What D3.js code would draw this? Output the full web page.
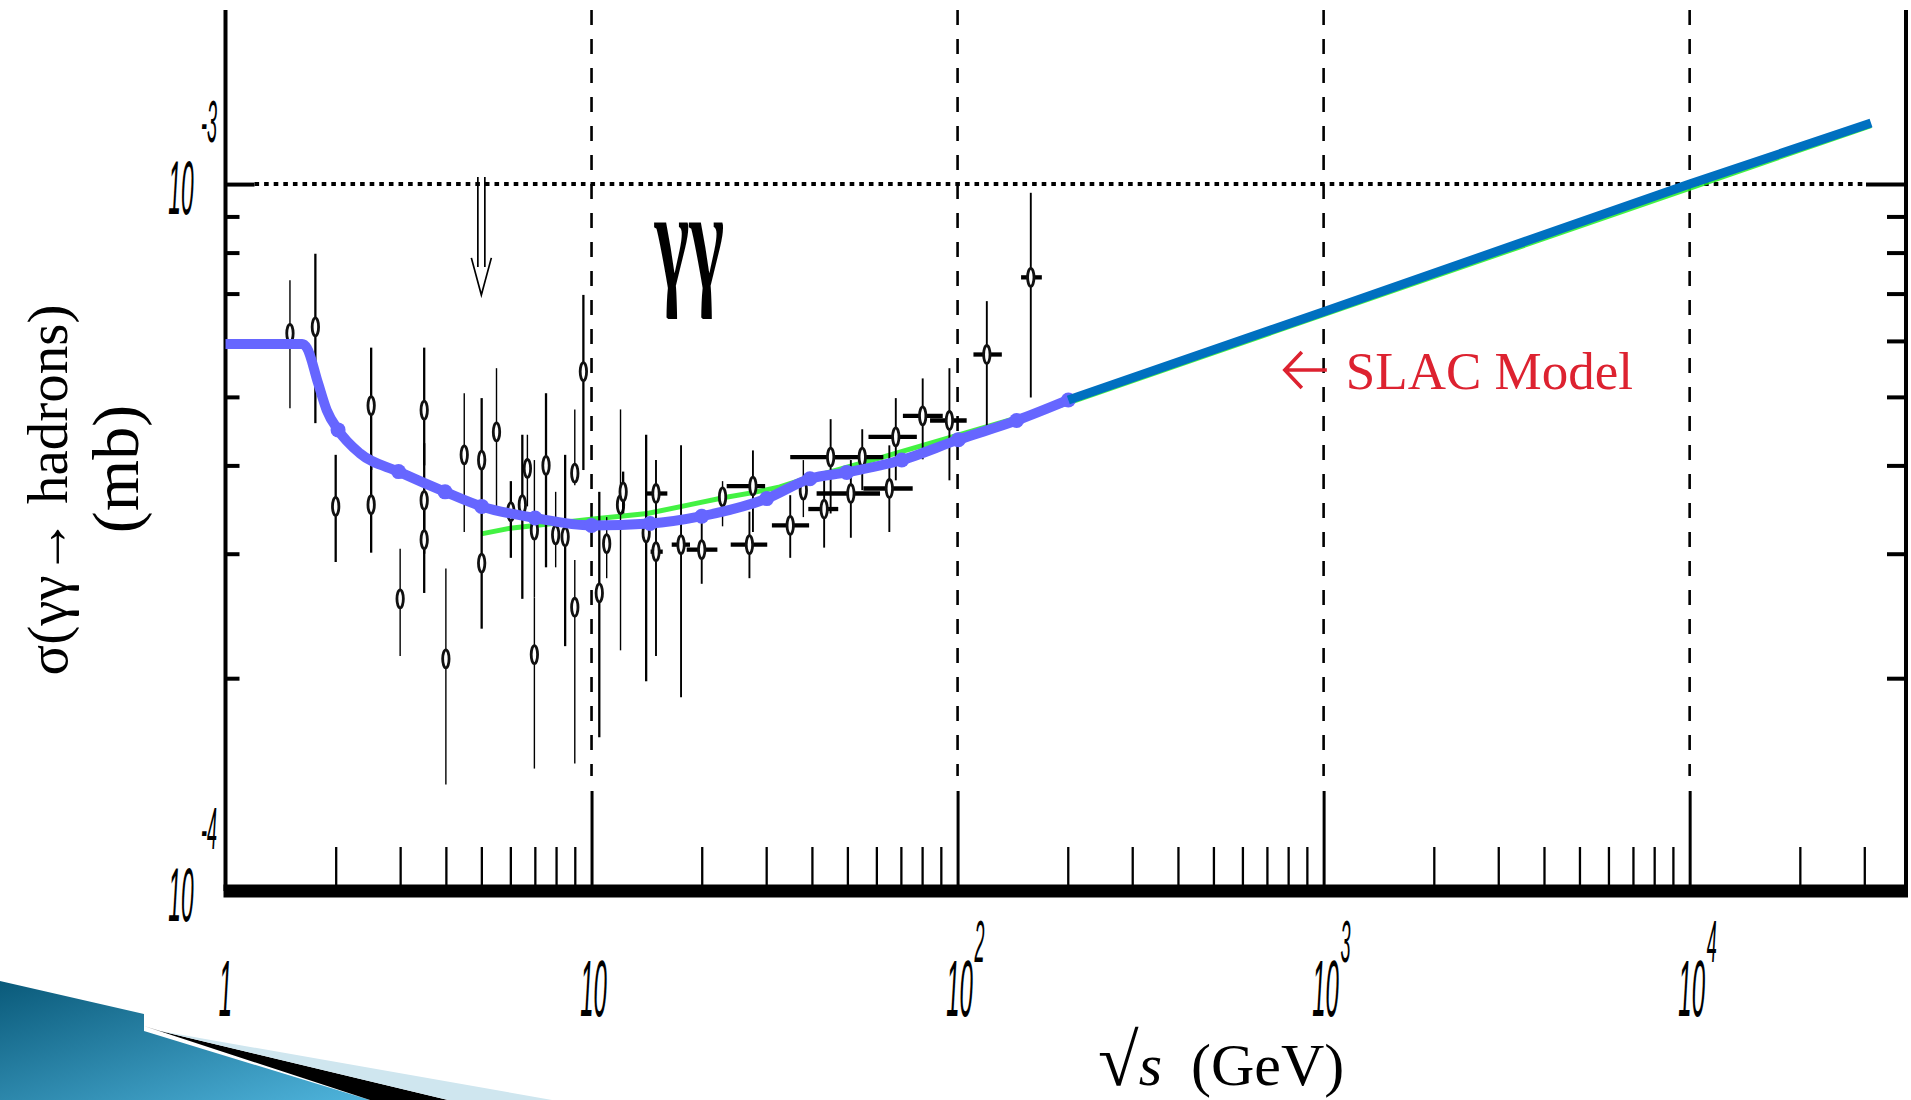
<!DOCTYPE html>
<html>
<head>
<meta charset="utf-8">
<script src="https://cdn.jsdelivr.net/npm/d3@7"></script>
<style>
  html, body { margin: 0; padding: 0; background: #fff; }
  svg { display: block; }
</style>
</head>
<body>
<svg id="chart" width="1911" height="1100"></svg>
<script>
// ================= DATA =================
// x axis (sqrt s, GeV) - log scale
const xMajorTicks = [10, 100, 1000, 10000];
const xLabelValues = [1, 10, 100, 1000, 10000];
const xLabelBase   = ["1", "10", "10", "10", "10"];
const xLabelExp    = ["", "", "2", "3", "4"];
const xMinorTicks  = [2, 3, 4, 5, 6, 7, 8, 9,
                      20, 30, 40, 50, 60, 70, 80, 90,
                      200, 300, 400, 500, 600, 700, 800, 900,
                      2000, 3000, 4000, 5000, 6000, 7000, 8000, 9000,
                      20000, 30000];
// y axis (sigma, mb) - log scale
const yLabelValues = [1e-4, 1e-3];
const yLabelBase   = ["10", "10"];
const yLabelExp    = ["-4", "-3"];
const yMinorTicks  = [2e-4, 3e-4, 4e-4, 5e-4, 6e-4, 7e-4, 8e-4, 9e-4];
const yMajorTicks  = [1e-3];

// data values below are in units of 1e-4 mb
// set A : measurements with thin error bars
const setA_E     = [1.50, 3.00, 4.00, 4.49, 5.50, 6.68, 6.98, 6.98, 7.98, 9.0, 9.0, 11.0, 12.0, 22.8, 37.9];
const setA_sigma = [6.15, 2.59, 2.13, 4.14, 4.46, 3.96, 2.16, 3.24, 3.19, 3.90, 2.52, 3.10, 3.52, 3.61, 3.69];
const setA_hi    = [7.31, 3.05, 2.86, 5.06, 5.49, 4.42, 2.60, 4.07, 3.67, 4.80, 2.94, 3.38, 4.80, 3.80, 4.07];
const setA_lo    = [4.82, 2.15, 1.415, 3.22, 3.50, 3.50, 1.49, 2.60, 2.87, 3.75, 1.515, 2.77, 2.19, 3.28, 3.38];

// set B : measurements with thick error bars
const setB_E     = [1.76, 2.00, 2.50, 2.50, 3.49, 3.49, 3.49, 5.01, 5.01, 6.02, 6.47, 7.51, 8.47, 9.50, 10.5, 12.2, 14.1];
const setB_sigma = [6.28, 3.50, 4.86, 3.52, 4.79, 3.57, 3.14, 4.07, 2.91, 3.44, 3.52, 4.00, 3.17, 5.43, 2.64, 3.67, 3.21];
const setB_hi    = [7.97, 4.14, 5.87, 4.14, 5.87, 4.30, 3.60, 4.98, 3.46, 3.80, 4.42, 5.06, 4.14, 6.97, 3.67, 3.92, 4.42];
const setB_lo    = [4.59, 2.92, 3.94, 3.01, 4.00, 3.00, 2.64, 3.46, 2.35, 2.96, 2.59, 2.87, 2.22, 3.94, 1.65, 3.42, 1.98];

// set C : measurements with energy bins (horizontal bars)
const setC_E     = [15.0, 15.0, 17.56, 20.0, 27.0, 27.6, 34.9, 43.2, 45.0, 51.1, 54.9, 65.1, 67.8, 80.3, 95.0, 120.2, 158.5];
const setC_sigma = [3.65, 3.02, 3.09, 3.04, 3.09, 3.74, 3.29, 3.47, 4.11, 3.65, 4.11, 3.71, 4.39, 4.70, 4.63, 5.74, 7.38];
const setC_hi    = [4.07, 3.30, 4.27, 3.42, 3.44, 4.20, 3.63, 3.81, 4.65, 4.07, 4.50, 4.27, 4.98, 5.31, 5.49, 6.83, 9.72];
const setC_lo    = [3.30, 2.15, 1.88, 2.72, 2.77, 3.22, 2.96, 3.06, 3.42, 3.16, 3.69, 3.22, 3.81, 4.08, 3.81, 4.50, 4.99];
const setC_Elo   = [14.06, 14.5, 16.56, 18.2, 24.0, 23.4, 31.1, 39.1, 34.9, 41.2, 45.0, 55.3, 57.1, 70.9, 84.1, 110.5, 149.1];
const setC_Ehi   = [16.11, 15.65, 18.58, 22.07, 30.2, 29.8, 39.3, 47.2, 51.0, 61.4, 62.7, 75.4, 77.4, 91.1, 105.9, 132.1, 169.9];

// model curve (purple, with dots)
const modelE     = [1, 1.62, 1.67, 1.79, 1.89, 2.03, 2.33, 2.97, 3.98, 5.01, 7.01, 10.0, 14.45, 20.0, 30.1, 39.5, 49.8, 70.4, 100.5, 145, 200.7];
const modelSigma = [5.94, 5.94, 5.86, 5.23, 4.79, 4.49, 4.16, 3.92, 3.67, 3.50, 3.37, 3.29, 3.31, 3.39, 3.59, 3.83, 3.91, 4.07, 4.35, 4.63, 4.95];
const modelDotIdx = [5, 7, 8, 9, 10, 11, 12, 13, 14, 15, 16, 17, 18, 19, 20];

// green curve
const greenE     = [5.0, 6.0, 10.1, 14.2, 18.6, 22.9, 27.6, 32.7, 37.1, 61.4, 200, 31300];
const greenSigma = [3.20, 3.26, 3.36, 3.42, 3.52, 3.60, 3.66, 3.73, 3.81, 4.10, 4.90, 12.1];

// SLAC model (blue)
const slacE      = [200.7, 1000, 10000, 31300];
const slacSigma  = [4.95, 6.60, 10.0, 12.2];

// annotations
const slacLabel  = { E: 1150, sigma: 5.13, text: "SLAC Model" };
const ggLabel    = { E: 18.5, sigma: 7.0, text: "γγ" };
const downArrow  = { E: 5.0, top: 10.23, tip: 6.97 };
const UNIT = 1e-4;

// ================= SCALES =================
const svg = d3.select("#chart");
const x = d3.scaleLog().domain([1, 39000]).range([225.5, 1906]);
const y = d3.scaleLog().domain([1e-4, 1.763e-3]).range([891, 10]);
const sy = v => y(v * UNIT);
const yTop = y.range()[1], yBot = y.range()[0];
const xL = x.range()[0], xR = x.range()[1];

// ================= DECORATION (slide swoosh) =================
const defs = svg.append("defs");
const grad = defs.append("linearGradient").attr("id", "sw")
  .attr("x1", "0").attr("y1", "0").attr("x2", "1").attr("y2", "1");
grad.append("stop").attr("offset", "0%").attr("stop-color", "#0a5a7a");
grad.append("stop").attr("offset", "100%").attr("stop-color", "#4fb4dc");
const deco = svg.append("g");
deco.append("polygon").attr("points", "0,981 144,1014 144,1031 370,1100 0,1100").attr("fill", "url(#sw)");
deco.append("polygon").attr("points", "144,1026 160,1031 448,1100 370,1100").attr("fill", "#000");
deco.append("polygon").attr("points", "160,1031 552,1100 448,1100").attr("fill", "#cfe6ef");

// ================= GRID LINES =================
svg.append("g").selectAll("line").data(xMajorTicks).join("line")
  .attr("x1", d => x(d)).attr("x2", d => x(d))
  .attr("y1", yTop).attr("y2", 776)
  .attr("stroke", "#000").attr("stroke-width", 2.6)
  .attr("stroke-dasharray", "15,14");

svg.append("g").selectAll("line").data(yMajorTicks).join("line")
  .attr("x1", xL + 29).attr("x2", xR - 40)
  .attr("y1", d => y(d)).attr("y2", d => y(d))
  .attr("stroke", "#000").attr("stroke-width", 4)
  .attr("stroke-dasharray", "4.6,5");

// ================= AXES =================
function styleAxis(g, w) {
  g.select(".domain").remove();
  g.selectAll(".tick line").attr("stroke", "#000").attr("stroke-width", w);
  g.selectAll(".tick text").remove();
}
svg.append("g").attr("transform", `translate(0,${yBot})`)
  .call(d3.axisBottom(x).tickValues(xMinorTicks).tickSize(-44).tickSizeOuter(0).tickFormat(""))
  .call(g => styleAxis(g, 2.3));
svg.append("g").attr("transform", `translate(0,${yBot})`)
  .call(d3.axisBottom(x).tickValues(xMajorTicks).tickSize(-100).tickSizeOuter(0).tickFormat(""))
  .call(g => styleAxis(g, 3));
svg.append("g").attr("transform", `translate(${xL},0)`)
  .call(d3.axisLeft(y).tickValues(yMinorTicks).tickSize(-14).tickSizeOuter(0).tickFormat(""))
  .call(g => styleAxis(g, 4));
svg.append("g").attr("transform", `translate(${xL},0)`)
  .call(d3.axisLeft(y).tickValues(yMajorTicks).tickSize(-29).tickSizeOuter(0).tickFormat(""))
  .call(g => styleAxis(g, 4));
svg.append("g").attr("transform", `translate(${xR},0)`)
  .call(d3.axisRight(y).tickValues(yMinorTicks).tickSize(-19).tickSizeOuter(0).tickFormat(""))
  .call(g => styleAxis(g, 4));
svg.append("g").attr("transform", `translate(${xR},0)`)
  .call(d3.axisRight(y).tickValues(yMajorTicks).tickSize(-40).tickSizeOuter(0).tickFormat(""))
  .call(g => styleAxis(g, 4));
svg.append("line").attr("x1", xL).attr("x2", xL).attr("y1", yTop).attr("y2", yBot)
  .attr("stroke", "#000").attr("stroke-width", 4);
svg.append("line").attr("x1", xR).attr("x2", xR).attr("y1", yTop).attr("y2", yBot)
  .attr("stroke", "#000").attr("stroke-width", 4);
svg.append("line").attr("x1", xL - 2).attr("x2", xR + 2).attr("y1", yBot).attr("y2", yBot)
  .attr("stroke", "#000").attr("stroke-width", 13);

// tick labels (condensed, tall)
const labFont = "'Liberation Sans', Arial, sans-serif";
const xl = svg.append("g");
xLabelValues.forEach((v, i) => {
  xl.append("text").attr("transform", `translate(${x(v) + (i === 0 ? 0 : 2)},1016) scale(0.3,1)`)
    .attr("text-anchor", "middle").attr("font-family", labFont).attr("font-style", "italic")
    .attr("font-size", 80).attr("fill", "#000").text(xLabelBase[i]);
  if (xLabelExp[i]) {
    xl.append("text").attr("transform", `translate(${x(v) + 17},962) scale(0.3,1)`)
      .attr("text-anchor", "start").attr("font-family", labFont).attr("font-style", "italic")
      .attr("font-size", 60).attr("fill", "#000").text(xLabelExp[i]);
  }
});
const yl = svg.append("g");
yLabelValues.forEach((v, i) => {
  yl.append("text").attr("transform", `translate(181,${y(v) + 30}) scale(0.3,1)`)
    .attr("text-anchor", "middle").attr("font-family", labFont).attr("font-style", "italic")
    .attr("font-size", 76).attr("fill", "#000").text(yLabelBase[i]);
  yl.append("text").attr("transform", `translate(201,${y(v) - 42}) scale(0.3,1)`)
    .attr("text-anchor", "start").attr("font-family", labFont).attr("font-style", "italic")
    .attr("font-size", 60).attr("fill", "#000").text(yLabelExp[i]);
});

// ================= CURVES & DATA =================
const line = d3.line().x(d => x(d[0])).y(d => sy(d[1]));

// green curve
svg.append("path").datum(d3.zip(greenE, greenSigma))
  .attr("d", line.curve(d3.curveLinear))
  .attr("fill", "none").attr("stroke", "#22f022").attr("stroke-width", 5).attr("opacity", 0.85);

// data points
function drawSet(E, S, lo, hi, w, Elo, Ehi) {
  const g = svg.append("g");
  const idx = d3.range(E.length);
  g.selectAll("line.v").data(idx).join("line").attr("class", "v")
    .attr("x1", i => x(E[i])).attr("x2", i => x(E[i]))
    .attr("y1", i => sy(hi[i])).attr("y2", i => sy(lo[i]))
    .attr("stroke", "#000").attr("stroke-width", w);
  if (Elo) {
    g.selectAll("line.h").data(idx).join("line").attr("class", "h")
      .attr("x1", i => x(Elo[i])).attr("x2", i => x(Ehi[i]))
      .attr("y1", i => sy(S[i])).attr("y2", i => sy(S[i]))
      .attr("stroke", "#000").attr("stroke-width", 4.3);
  }
  g.selectAll("ellipse").data(idx).join("ellipse")
    .attr("cx", i => x(E[i])).attr("cy", i => sy(S[i]))
    .attr("rx", 3.2).attr("ry", 9)
    .attr("fill", "#fff").attr("stroke", "#111").attr("stroke-width", 2.8);
}
drawSet(setA_E, setA_sigma, setA_lo, setA_hi, 1.4);
drawSet(setB_E, setB_sigma, setB_lo, setB_hi, 2.3);
drawSet(setC_E, setC_sigma, setC_lo, setC_hi, 1.9, setC_Elo, setC_Ehi);

// purple model curve with dots
const model = d3.zip(modelE, modelSigma);
svg.append("path").datum(model)
  .attr("d", line.curve(d3.curveMonotoneX))
  .attr("fill", "none").attr("stroke", "#6666ff").attr("stroke-width", 10)
  .attr("stroke-linejoin", "round");
svg.append("g").selectAll("circle").data(modelDotIdx.map(i => model[i])).join("circle")
  .attr("cx", d => x(d[0])).attr("cy", d => sy(d[1])).attr("r", 7.5).attr("fill", "#6666ff");

// SLAC model line
svg.append("path").datum(d3.zip(slacE, slacSigma))
  .attr("d", line.curve(d3.curveLinear))
  .attr("fill", "none").attr("stroke", "#0070c0").attr("stroke-width", 9);

// ================= ANNOTATIONS =================
const serif = "'Liberation Serif', 'Times New Roman', serif";
const sx0 = x(slacLabel.E), sy0 = sy(slacLabel.sigma);
svg.append("text").attr("x", sx0).attr("y", sy0)
  .attr("font-family", serif).attr("font-size", 53).attr("fill", "#dd2230").text(slacLabel.text);
svg.append("path")
  .attr("d", `M${sx0 - 19},${sy0 - 19} H${sx0 - 61} M${sx0 - 44},${sy0 - 37} L${sx0 - 61},${sy0 - 19} L${sx0 - 44},${sy0 - 1}`)
  .attr("fill", "none").attr("stroke", "#dd2230").attr("stroke-width", 3.6);

// gamma gamma label
svg.append("text").attr("transform", `translate(${x(ggLabel.E)},${sy(ggLabel.sigma) - 6}) scale(0.52,1)`)
  .attr("text-anchor", "middle").attr("font-family", serif).attr("font-size", 143)
  .attr("font-weight", "bold").attr("fill", "#000").text(ggLabel.text);

// down double arrow
const ax = x(downArrow.E), aTop = sy(downArrow.top), aTip = sy(downArrow.tip);
svg.append("path")
  .attr("d", `M${ax - 3.5},${aTop} V${aTip - 28} M${ax + 3.5},${aTop} V${aTip - 28} M${ax - 10},${aTip - 37} L${ax},${aTip} L${ax + 10},${aTip - 37}`)
  .attr("fill", "none").attr("stroke", "#000").attr("stroke-width", 1.7);

// axis titles
svg.append("text").attr("transform", "translate(67,490) rotate(-90)")
  .attr("text-anchor", "middle").attr("font-family", serif).attr("font-size", 57)
  .attr("fill", "#000").text("σ(γγ→ hadrons)");
svg.append("text").attr("transform", "translate(138,469) rotate(-90)")
  .attr("text-anchor", "middle").attr("font-family", serif).attr("font-size", 66)
  .attr("fill", "#000").text("(mb)");
const xt = svg.append("text").attr("x", 1098).attr("y", 1085)
  .attr("font-family", serif).attr("font-size", 60).attr("fill", "#000");
xt.append("tspan").attr("font-size", 74).text("√");
xt.append("tspan").attr("font-style", "italic").text("s");
xt.append("tspan").attr("dx", 14).text(" (GeV)");
</script>
</body>
</html>
